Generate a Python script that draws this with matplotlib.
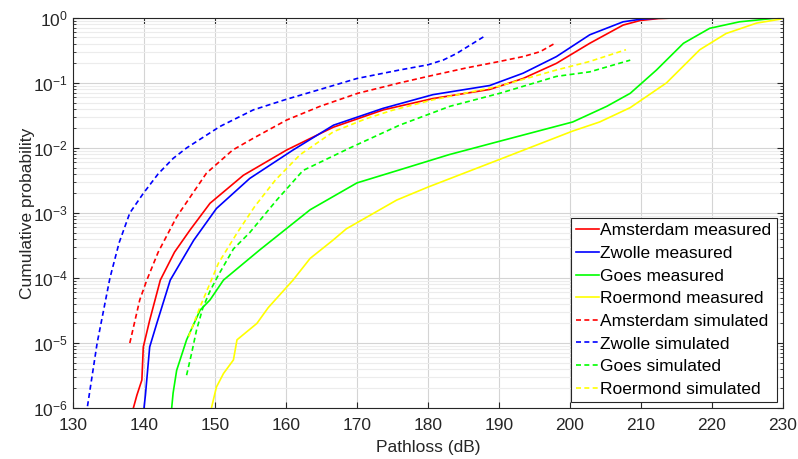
import numpy as np
import matplotlib
matplotlib.use("Agg")
import matplotlib.pyplot as plt
from matplotlib.ticker import LogLocator, NullFormatter, MultipleLocator

plt.rcParams['font.family'] = ['Liberation Sans', 'DejaVu Sans']
plt.rcParams['mathtext.default'] = 'regular'

# Measured CDFs (pathloss in dB, cumulative probability)
ams_meas_x = [138.5, 139.0, 139.7, 139.9, 140.8, 142.3, 144.3, 146.5, 149.3, 154.0, 160.1, 164.8,
              166.7, 173.7, 180.7, 188.7, 193.4, 198.1, 202.8, 207.5, 209.9, 212.5, 215.0, 230.0]
ams_meas_y = [1e-6, 1.58e-6, 2.7e-6, 8.7e-6, 2.24e-5, 9.3e-5, 2.5e-4, 5.5e-4, 1.41e-3, 3.8e-3, 9.3e-3,
              0.0166, 0.0209, 0.0385, 0.0575, 0.0794, 0.117, 0.2, 0.407, 0.776, 0.912, 0.977, 1.0, 1.0]

zwo_meas_x = [140.0, 140.2, 140.8, 141.8, 143.7, 147.0, 150.2, 154.9, 161.0, 166.7, 173.7, 180.7,
              188.7, 193.4, 198.1, 202.8, 207.5, 210.0, 213.0, 230.0]
zwo_meas_y = [1e-6, 1.58e-6, 8.7e-6, 2.0e-5, 9.3e-5, 3.8e-4, 1.17e-3, 3.4e-3, 9.3e-3, 0.0224, 0.0407,
              0.066, 0.0912, 0.141, 0.254, 0.55, 0.871, 0.955, 1.0, 1.0]

goes_meas_x = [143.9, 144.1, 144.6, 146.0, 147.9, 149.3, 151.2, 156.3, 163.4, 170.0, 176.0, 183.0,
               190.0, 200.4, 205.2, 208.5, 212.2, 216.0, 219.7, 223.9, 229.0, 230.0]
goes_meas_y = [1e-6, 1.7e-6, 3.8e-6, 1.12e-5, 3.2e-5, 4.6e-5, 9.3e-5, 2.7e-4, 1.12e-3, 2.9e-3, 4.6e-3,
               7.9e-3, 0.0126, 0.0251, 0.0437, 0.0692, 0.158, 0.407, 0.692, 0.871, 0.99, 1.0]

roe_meas_x = [149.5, 150.2, 151.2, 152.6, 153.1, 155.9, 157.5, 161.0, 163.4, 166.6, 168.5, 175.6,
              180.0, 190.0, 200.4, 204.2, 208.5, 213.6, 218.3, 222.0, 226.3, 229.6, 230.0]
roe_meas_y = [1e-6, 2.1e-6, 3.4e-6, 5.5e-6, 1.12e-5, 2.0e-5, 3.5e-5, 9.3e-5, 2.0e-4, 3.8e-4, 5.7e-4,
              1.58e-3, 2.5e-3, 6.6e-3, 0.0182, 0.0251, 0.0417, 0.1, 0.324, 0.575, 0.832, 0.955, 1.0]

# Simulated CDFs
ams_sim_x = [138.0, 139.4, 140.4, 142.0, 144.6, 148.8, 152.5, 155.4, 160.1, 164.8, 170.1, 176.0,
             180.0, 185.4, 190.1, 193.4, 195.8, 197.9]
ams_sim_y = [1e-5, 4.6e-5, 9.3e-5, 2.5e-4, 8.7e-4, 4.1e-3, 9.3e-3, 0.0141, 0.0269, 0.0437, 0.0692,
             0.1, 0.126, 0.17, 0.214, 0.254, 0.302, 0.407]

zwo_sim_x = [131.8, 132.0, 133.4, 135.2, 136.5, 138.0, 139.9, 142.0, 144.1, 146.0, 150.7, 155.4,
             160.1, 164.8, 170.0, 176.0, 180.0, 182.2, 184.0, 188.0]
zwo_sim_y = [8e-7, 1e-6, 1e-5, 1e-4, 3.5e-4, 1e-3, 2e-3, 4e-3, 6.9e-3, 0.01, 0.0214, 0.0385,
             0.0562, 0.0794, 0.117, 0.158, 0.19, 0.226, 0.282, 0.525]

goes_sim_x = [146.0, 146.7, 147.4, 148.3, 149.3, 150.5, 152.6, 154.9, 158.7, 162.4, 169.0, 176.0,
              183.1, 190.1, 198.1, 202.8, 208.5]
goes_sim_y = [3.2e-6, 6.9e-6, 1.58e-5, 3.5e-5, 6.3e-5, 1.12e-4, 2.8e-4, 5e-4, 1.58e-3, 4.5e-3, 0.01,
              0.0224, 0.0437, 0.0692, 0.126, 0.148, 0.224]

roe_sim_x = [146.3, 147.9, 149.3, 150.5, 153.1, 155.6, 158.5, 162.0, 166.7, 171.3, 175.0, 180.7,
             190.0, 198.1, 202.8, 207.9]
roe_sim_y = [1.26e-5, 3.6e-5, 8.3e-5, 1.7e-4, 4.9e-4, 1.26e-3, 3.2e-3, 7.9e-3, 0.0178, 0.0282,
             0.038, 0.055, 0.089, 0.158, 0.214, 0.324]

fig, ax = plt.subplots(figsize=(7.98, 4.59), dpi=100)
fig.subplots_adjust(left=0.0915, right=0.981, bottom=0.111, top=0.961)

red, blue, green, yellow = '#ff0000', '#0000ff', '#00ff00', '#ffff00'
dash = (0, (3.0, 2.0))

ax.plot(ams_meas_x, ams_meas_y, color=red, lw=1.2, label='Amsterdam measured')
ax.plot(zwo_meas_x, zwo_meas_y, color=blue, lw=1.2, label='Zwolle measured')
ax.plot(goes_meas_x, goes_meas_y, color=green, lw=1.2, label='Goes measured')
ax.plot(roe_meas_x, roe_meas_y, color=yellow, lw=1.2, label='Roermond measured')
ax.plot(ams_sim_x, ams_sim_y, color=red, lw=1.2, ls=dash, label='Amsterdam simulated')
ax.plot(zwo_sim_x, zwo_sim_y, color=blue, lw=1.2, ls=dash, label='Zwolle simulated')
ax.plot(goes_sim_x, goes_sim_y, color=green, lw=1.2, ls=dash, label='Goes simulated')
ax.plot(roe_sim_x, roe_sim_y, color=yellow, lw=1.2, ls=dash, label='Roermond simulated')

ax.set_yscale('log')
ax.set_xlim(130, 230)
ax.set_ylim(1e-6, 1)
ax.xaxis.set_major_locator(MultipleLocator(10))
ax.yaxis.set_major_locator(LogLocator(base=10, numticks=10))
ax.yaxis.set_minor_locator(LogLocator(base=10, subs=np.arange(2, 10), numticks=20))
ax.yaxis.set_minor_formatter(NullFormatter())

ax.grid(True, which='major', color='#d4d4d4', lw=0.8)
ax.grid(True, which='minor', axis='y', color='#ececec', lw=0.8)
ax.set_axisbelow(True)

dark = '#262626'
for s in ax.spines.values():
    s.set_color(dark)
    s.set_linewidth(0.8)
ax.tick_params(which='both', direction='in', top=True, right=True, colors=dark,
               labelsize=12.5, labelcolor=dark)
ax.tick_params(which='major', length=4)
ax.tick_params(which='minor', length=2)
ax.tick_params(axis='x', which='major', pad=7)

ax.set_xlabel('Pathloss (dB)', fontsize=12.5, color=dark, labelpad=5)
ax.set_ylabel('Cumulative probability', fontsize=12.5, color=dark, labelpad=-1)

leg = ax.legend(loc='lower right', fontsize=12.5, frameon=True, fancybox=False, framealpha=1,
                edgecolor=dark, handlelength=1.3, handletextpad=0.1, labelspacing=0.43,
                borderpad=0.3, borderaxespad=0.35)
leg.get_frame().set_linewidth(0.8)

fig.savefig('out.png', dpi=100)
